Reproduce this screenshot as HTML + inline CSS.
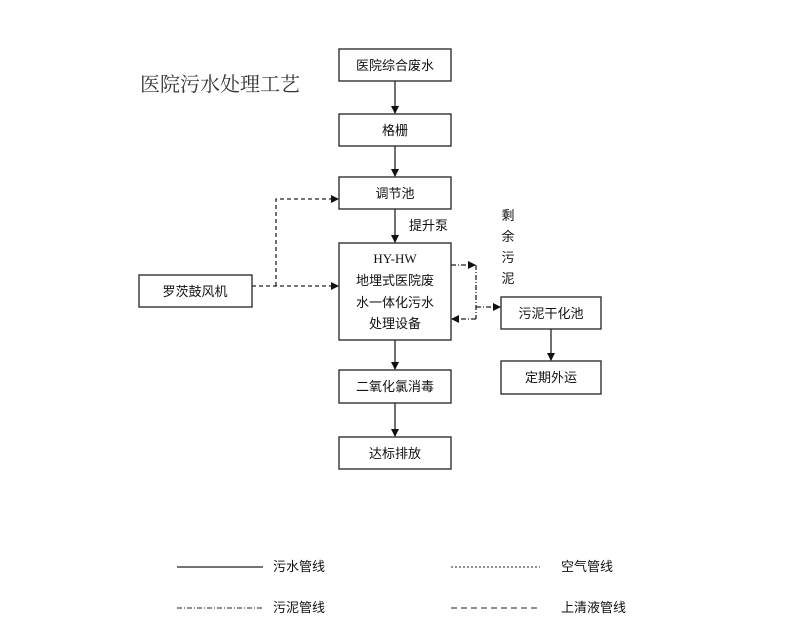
<!DOCTYPE html><html><head><meta charset="utf-8"><style>body{margin:0;background:#fff}</style></head><body>
<svg width="810" height="639" xmlns="http://www.w3.org/2000/svg" font-family="Liberation Sans, Noto Sans CJK SC, sans-serif" font-size="13" fill="#111">
<defs><marker id="a" markerWidth="8" markerHeight="8" refX="7" refY="4" orient="auto" markerUnits="userSpaceOnUse"><path d="M0,0L8,4L0,8z" fill="#111"/></marker></defs>
<rect width="810" height="639" fill="#fff"/>
<g fill="none" stroke="#222" stroke-width="1.3">
<rect x="339" y="49" width="112" height="32"/>
<rect x="339" y="114" width="112" height="32"/>
<rect x="339" y="177" width="112" height="32"/>
<rect x="339" y="243" width="112" height="97"/>
<rect x="139" y="275" width="113" height="32"/>
<rect x="501" y="297" width="100" height="32"/>
<rect x="501" y="361" width="100" height="33"/>
<rect x="339" y="370" width="112" height="33"/>
<rect x="339" y="437" width="112" height="32"/>
<line x1="395" y1="81" x2="395" y2="113" marker-end="url(#a)"/>
<line x1="395" y1="146" x2="395" y2="176" marker-end="url(#a)"/>
<line x1="395" y1="209" x2="395" y2="242" marker-end="url(#a)"/>
<line x1="395" y1="340" x2="395" y2="369" marker-end="url(#a)"/>
<line x1="395" y1="403" x2="395" y2="436" marker-end="url(#a)"/>
<line x1="551" y1="329" x2="551" y2="360" marker-end="url(#a)"/>
<g stroke-dasharray="4,3">
<line x1="252" y1="286" x2="338" y2="286" marker-end="url(#a)"/>
<polyline points="276,286 276,199 338,199" marker-end="url(#a)"/>
</g>
<g stroke-dasharray="5,2,1,2">
<line x1="451" y1="265" x2="475" y2="265" marker-end="url(#a)"/>
<line x1="476" y1="265" x2="476" y2="319"/>
<line x1="476" y1="307" x2="500" y2="307" marker-end="url(#a)"/>
<line x1="476" y1="319" x2="452" y2="319" marker-end="url(#a)"/>
</g>
<line x1="177" y1="567" x2="263" y2="567"/>
<line x1="451" y1="567" x2="540" y2="567" stroke-dasharray="2,2" stroke-width="1"/>
<line x1="177" y1="608" x2="263" y2="608" stroke-dasharray="5,2,1,2" stroke-width="1"/>
<line x1="451" y1="608" x2="540" y2="608" stroke-dasharray="6,4" stroke-width="1"/>
</g>
<g text-anchor="middle">
<text x="395" y="70">医院综合废水</text>
<text x="395" y="135">格栅</text>
<text x="395" y="198">调节池</text>
<text x="395" y="263" font-family="Liberation Serif, serif">HY-HW</text>
<text x="395" y="285">地埋式医院废</text>
<text x="395" y="307">水一体化污水</text>
<text x="395" y="328">处理设备</text>
<text x="195" y="296">罗茨鼓风机</text>
<text x="551" y="318">污泥干化池</text>
<text x="551" y="382">定期外运</text>
<text x="395" y="391">二氧化氯消毒</text>
<text x="395" y="458">达标排放</text>
<text x="508" y="220">剩</text><text x="508" y="241">余</text><text x="508" y="262">污</text><text x="508" y="283">泥</text>
</g>
<text x="409" y="230">提升泵</text>
<text x="140" y="91" font-size="20" font-family="Liberation Serif, Noto Serif CJK SC, serif" fill="#333">医院污水处理工艺</text>
<text x="273" y="571">污水管线</text>
<text x="561" y="571">空气管线</text>
<text x="273" y="612">污泥管线</text>
<text x="561" y="612">上清液管线</text>
</svg></body></html>
